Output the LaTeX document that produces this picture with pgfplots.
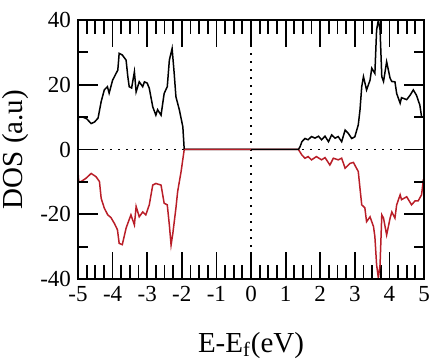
\documentclass[border=0pt]{standalone}
\usepackage{pgfplots}
\pgfplotsset{compat=1.18}
\usepackage{fontspec}
\setmainfont{Liberation Serif}
\newfontfamily\timesf{Liberation Serif}
\definecolor{dred}{RGB}{185,30,40}
\begin{document}
\begin{tikzpicture}
\pgfplotsset{
  common/.style={
    scale only axis,
    width=173pt, height=129.5pt,
    xmin=-5, xmax=5, ymin=-40, ymax=40,
    tick align=inside,
    tick style={black, line width=0.9pt},
    axis line style={line width=1.1pt},
    /pgf/number format/assume math mode=true,
    ticklabel style={font=\timesf\fontsize{11.5}{13}\selectfont},
    label style={font=\timesf\fontsize{14.5}{17}\selectfont},
  }
}
\begin{axis}[
  common,
  xtick={-5,-4,...,5},
  ytick=\empty,
  minor x tick num=3,
  major tick length=13.5pt,
  minor tick length=7pt,
  xlabel={E-E$_{\mathrm{f}}$(eV)},
  xlabel style={yshift=-8.5pt},
  clip=true,
]
\addplot[black, line width=0.7pt, dash pattern=on 0.8pt off 3.2pt] coordinates {(-5,0) (5,0)};
\addplot[black, line width=0.7pt, dash pattern=on 0.8pt off 3.2pt] coordinates {(0,-40) (0,40)};
\addplot[dred, line width=0.75pt] coordinates {
(-5,-6.8) (-4.98,-9.9) (-4.91,-9.9) (-4.77,-8.9) (-4.62,-7.4) (-4.48,-8.4) (-4.38,-9.9)
(-4.33,-15.1) (-4.24,-18.1) (-4.14,-20.2) (-4.05,-21) (-3.95,-22.8) (-3.86,-24.8) (-3.81,-29)
(-3.72,-29.4) (-3.61,-24.3) (-3.56,-22.8) (-3.47,-20.2) (-3.37,-23.3) (-3.32,-17.6) (-3.23,-20.8)
(-3.13,-19.3) (-3.04,-20.2) (-2.94,-17.1) (-2.84,-11) (-2.75,-10.5) (-2.6,-11) (-2.51,-16.6)
(-2.42,-17.1) (-2.36,-23.3) (-2.31,-29.5) (-2.26,-26) (-2.17,-18.1) (-2.12,-13) (-2.02,-6.8)
(-1.93,0) (1.37,0) (1.47,-1.7) (1.56,-2.7) (1.65,-2.2) (1.75,-3.2) (1.89,-2.2) (2.04,-3.2)
(2.14,-2.5) (2.28,-4.8) (2.38,-2.7) (2.52,-3.2) (2.62,-2.7) (2.72,-5.8) (2.86,-4.3) (2.96,-4)
(3.1,-6.8) (3.15,-12) (3.2,-17.1) (3.29,-18) (3.34,-22.3) (3.44,-20.8) (3.54,-23.8) (3.58,-26.9)
(3.63,-35.6) (3.68,-39.7) (3.73,-35.6) (3.78,-20.2) (3.83,-21.2) (3.92,-26.4) (4.02,-21.2)
(4.07,-19.3) (4.16,-21.2) (4.21,-17.1) (4.31,-14) (4.35,-15.5) (4.5,-14.6) (4.64,-17.1)
(4.74,-15.9) (4.83,-15.9) (4.93,-14) (4.98,-9.4) (5,-9.4)
};
\addplot[black, line width=0.75pt] coordinates {
(-5,6) (-4.99,10) (-4.86,10) (-4.75,9.5) (-4.62,8) (-4.52,8.5) (-4.42,9.7) (-4.33,14.8)
(-4.24,18.4) (-4.15,19.4) (-4.1,17.4) (-4.0,21.4) (-3.9,23.5) (-3.85,24.5) (-3.81,29.7)
(-3.72,29.2) (-3.61,27.6) (-3.56,22.5) (-3.52,19.4) (-3.45,19) (-3.37,24) (-3.32,17.8)
(-3.23,20.9) (-3.13,19.4) (-3.08,20.9) (-3.0,20.5) (-2.94,18.9) (-2.84,13.2) (-2.75,10.6)
(-2.7,12.3) (-2.6,10.6) (-2.51,17.3) (-2.42,19.4) (-2.36,27.6) (-2.28,31.2) (-2.22,23.5)
(-2.17,16.3) (-2.07,12.2) (-1.97,7.0) (-1.93,0) (1.37,0) (1.42,0.9) (1.47,2.4) (1.56,3.4)
(1.65,3) (1.75,4) (1.85,3.5) (1.95,4.1) (2.04,3) (2.14,4.1) (2.24,2.4) (2.33,4.5) (2.43,3.5)
(2.52,4) (2.62,2.4) (2.72,6) (2.81,5) (2.91,3.4) (3.0,3.9) (3.1,7.6) (3.15,12.2) (3.2,19.4)
(3.25,22.5) (3.34,18.4) (3.44,21.4) (3.49,25.1) (3.58,23.5) (3.63,36.9) (3.68,40) (3.73,36.9)
(3.78,22.5) (3.83,21) (3.92,27.1) (4.02,22) (4.07,21) (4.16,20.9) (4.21,17.3) (4.31,14.3)
(4.35,16) (4.5,15.4) (4.6,16.8) (4.69,18.4) (4.78,16.8) (4.88,13.7) (4.93,10.1) (5.0,10)
};
\addplot[dred, line width=0.75pt] coordinates {(-1.93,0) (0,0)};
\end{axis}
\begin{axis}[
  common,
  xtick=\empty,
  ytick={-40,-20,0,20,40},
  minor y tick num=1,
  major tick length=10pt,
  minor tick length=5pt,
  ylabel={DOS (a.u)},
  ylabel style={yshift=-1pt},
]
\coordinate (LL) at (rel axis cs:0,0);
\coordinate (UR) at (rel axis cs:1,1);
\end{axis}
\pgfresetboundingbox
\path ([shift={(-39pt,-42pt)}]LL) rectangle ([shift={(2.5pt,10pt)}]UR);
\end{tikzpicture}
\end{document}
